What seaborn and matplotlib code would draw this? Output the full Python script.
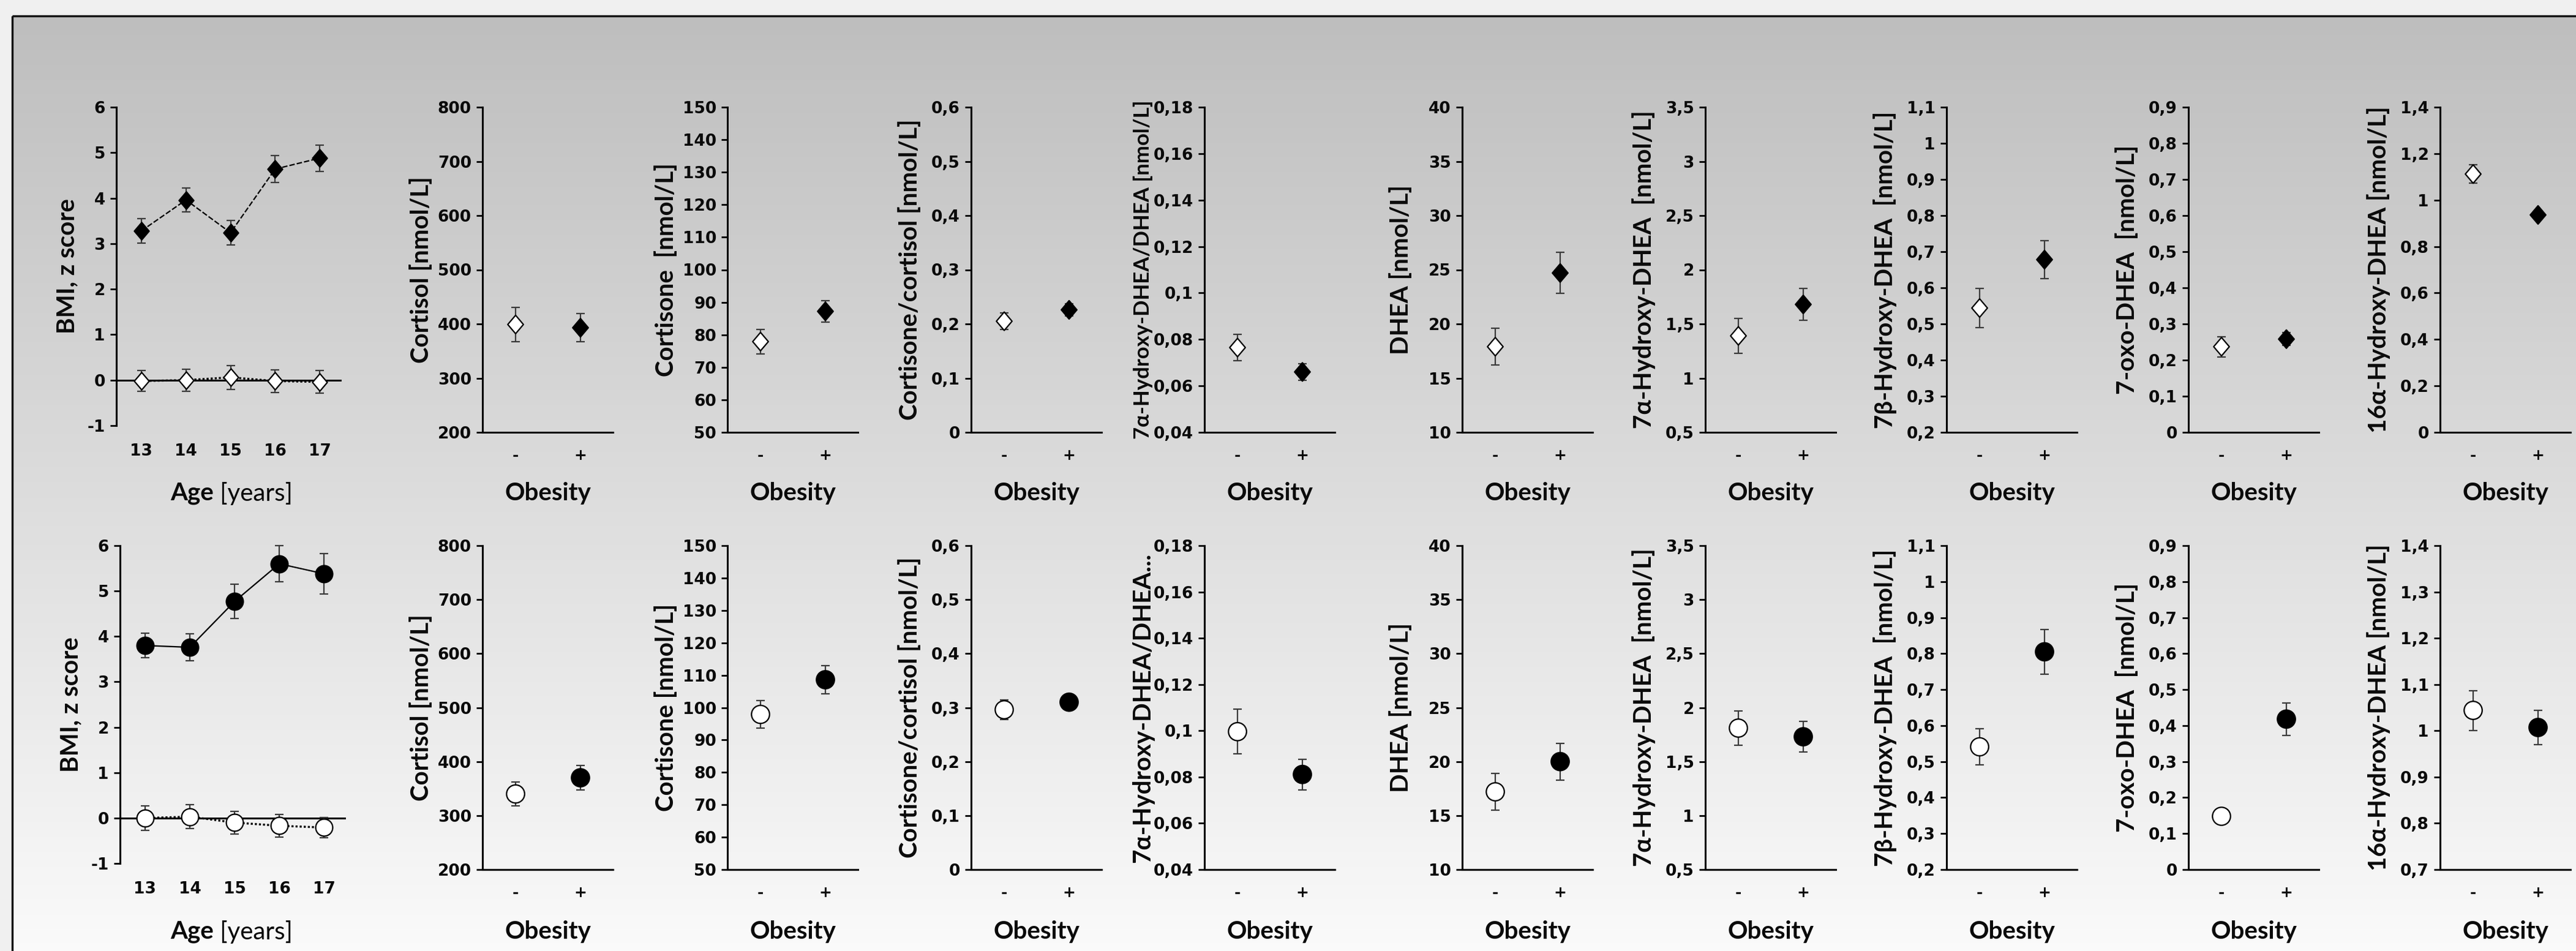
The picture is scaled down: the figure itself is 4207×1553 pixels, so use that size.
import numpy as np
import pandas as pd
import matplotlib
matplotlib.use("Agg")
import matplotlib.pyplot as plt
from matplotlib.path import Path
from matplotlib.markers import MarkerStyle
from matplotlib.patches import Rectangle
from matplotlib.ticker import FuncFormatter
from matplotlib.colors import LinearSegmentedColormap
import seaborn as sns

# ---------------- data ----------------
ages = [13, 14, 15, 16, 17]
bmi_top_obese = [3.28, 3.96, 3.24, 4.64, 4.88]
bmi_top_obese_err = [0.27, 0.26, 0.27, 0.30, 0.29]
bmi_top_lean = [-0.02, 0.0, 0.06, -0.02, -0.04]
bmi_top_lean_err = [0.23, 0.24, 0.26, 0.25, 0.25]
bmi_bot_obese = [3.80, 3.76, 4.77, 5.60, 5.38]
bmi_bot_obese_err = [0.27, 0.30, 0.38, 0.40, 0.44]
bmi_bot_lean = [0.0, 0.03, -0.10, -0.17, -0.21]
bmi_bot_lean_err = [0.27, 0.26, 0.25, 0.25, 0.22]

obesity_levels = ['-', '+']

labels_top = ['Cortisol [nmol/L]', 'Cortisone  [nmol/L]', 'Cortisone/cortisol [nmol/L]',
              '7α-Hydroxy-DHEA/DHEA [nmol/L]', 'DHEA [nmol/L]', '7α-Hydroxy-DHEA  [nmol/L]',
              '7β-Hydroxy-DHEA  [nmol/L]', '7-oxo-DHEA  [nmol/L]', '16α-Hydroxy-DHEA [nmol/L]']
labels_bot = ['Cortisol [nmol/L]', 'Cortisone [nmol/L]', 'Cortisone/cortisol [nmol/L]',
              '7α-Hydroxy-DHEA/DHEA...', 'DHEA [nmol/L]', '7α-Hydroxy-DHEA  [nmol/L]',
              '7β-Hydroxy-DHEA  [nmol/L]', '7-oxo-DHEA  [nmol/L]', '16α-Hydroxy-DHEA [nmol/L]']

top_lean = [399, 77.9, 0.205, 0.0765, 17.9, 1.39, 0.544, 0.237, 1.112]
top_lean_err = [32, 3.8, 0.015, 0.0057, 1.7, 0.16, 0.055, 0.028, 0.04]
top_obese = [393, 87.2, 0.226, 0.066, 24.7, 1.68, 0.678, 0.258, 0.936]
top_obese_err = [26, 3.3, 0.011, 0.0035, 1.9, 0.145, 0.052, 0.018, 0.015]
bot_lean = [340, 97.9, 0.296, 0.0996, 17.2, 1.81, 0.541, 0.148, 1.044]
bot_lean_err = [22, 4.2, 0.018, 0.0097, 1.7, 0.16, 0.05, 0.015, 0.043]
bot_obese = [370, 108.6, 0.31, 0.0811, 20.0, 1.73, 0.805, 0.418, 1.007]
bot_obese_err = [23, 4.3, 0.01, 0.0066, 1.7, 0.14, 0.062, 0.045, 0.037]

top_ylims = [(200, 800), (50, 150), (0, 0.6), (0.04, 0.18), (10, 40), (0.5, 3.5), (0.2, 1.1), (0, 0.9), (0, 1.4)]
top_steps = [100, 10, 0.1, 0.02, 5, 0.5, 0.1, 0.1, 0.2]
bot_ylims = [(200, 800), (50, 150), (0, 0.6), (0.04, 0.18), (10, 40), (0.5, 3.5), (0.2, 1.1), (0, 0.9), (0.7, 1.4)]
bot_steps = [100, 10, 0.1, 0.02, 5, 0.5, 0.1, 0.1, 0.1]

# ---------------- style ----------------
sns.set_theme(style="white")
TICKFONT = ['Liberation Sans Narrow', 'DejaVu Sans']
LABELFONT = ['Lato', 'DejaVu Sans']
plt.rcParams['font.family'] = TICKFONT
plt.rcParams['font.weight'] = 'bold'
plt.rcParams['axes.unicode_minus'] = False

W, H, DPI = 4207, 1553, 100
fig = plt.figure(figsize=(W / DPI, H / DPI), dpi=DPI, facecolor='#f0f0f0')

# background gradient panel with border
bg = fig.add_axes([0, 0, 1, 1], zorder=-10)
grad = np.linspace(0, 1, 512)[:, None]
cmap = LinearSegmentedColormap.from_list('bg', ['#bebebe', '#fbfbfb'])
bg.imshow(grad, cmap=cmap, extent=[20, W + 40, H + 20, 26], aspect='auto', interpolation='bilinear')
bg.add_patch(Rectangle((20, 26), W + 100, H + 100, fill=False, edgecolor='#151515', lw=2.5))
bg.set_xlim(0, W)
bg.set_ylim(H, 0)
bg.axis('off')

diamond = MarkerStyle(Path([(0, 1), (0.85, 0), (0, -1), (-0.85, 0), (0, 1)],
                           [Path.MOVETO, Path.LINETO, Path.LINETO, Path.LINETO, Path.CLOSEPOLY]))


def comma_fmt(v, pos):
    s = ('%.4f' % v).rstrip('0').rstrip('.')
    if s in ('-0', ''):
        s = '0'
    return s.replace('.', ',')


def px_axes(x0, top, w, bot):
    return fig.add_axes([x0 / W, 1 - bot / H, w / W, (bot - top) / H])


def style_axes(ax):
    ax.set_facecolor('none')
    ax.grid(False)
    for sp in ['top', 'right']:
        ax.spines[sp].set_visible(False)
    for sp in ['left', 'bottom']:
        ax.spines[sp].set_linewidth(2.2)
        ax.spines[sp].set_color('black')
    ax.tick_params(axis='y', left=True, length=7, width=2, pad=6, labelsize=19,
                   direction='out', color='black', labelcolor='#0a0a0a')
    ax.yaxis.set_major_formatter(FuncFormatter(comma_fmt))


def hormone_panel(ax, label, lean, lean_err, obese, obese_err, ylim, step, marker, s, lsize):
    style_axes(ax)
    pos = np.arange(len(obesity_levels))
    df = pd.DataFrame({'pos': pos, 'value': [lean, obese], 'err': [lean_err, obese_err],
                       'Obesity': obesity_levels})
    ax.errorbar(df['pos'], df['value'], yerr=df['err'], fmt='none', ecolor='#3a3a3a',
                elinewidth=1.6, capsize=5, capthick=1.6, zorder=2, clip_on=False)
    sns.scatterplot(data=df, x='pos', y='value', hue='Obesity',
                    palette={'-': 'white', '+': 'black'}, marker=marker, s=s,
                    edgecolor='black', linewidth=1.6, legend=False, ax=ax, zorder=3, clip_on=False)
    ax.set_xlim(-0.51, 1.5)
    ax.set_ylim(*ylim)
    ax.set_yticks(np.round(np.arange(ylim[0], ylim[1] + step / 2, step), 6))
    ax.set_xticks(pos)
    ax.set_xticklabels(obesity_levels)
    ax.tick_params(axis='x', bottom=False, length=0, pad=19, labelsize=18, labelcolor='#0a0a0a')
    ax.set_xlabel('')
    ax.set_ylabel(label, fontsize=lsize, fontweight='bold', family=LABELFONT, va='center', color='#0a0a0a')
    ax.yaxis.set_label_coords(-100 / 213, 0.5)


def bmi_panel(ax, obese, obese_err, lean, lean_err, marker, s, obese_ls):
    style_axes(ax)
    ax.spines['bottom'].set_visible(False)
    ax.axhline(0, color='black', lw=2.2, zorder=1)
    sns.lineplot(x=ages, y=lean, color='black', lw=2.4, linestyle=(0, (1, 1)), errorbar=None,
                 ax=ax, zorder=1.5)
    sns.lineplot(x=ages, y=obese, color='black', lw=1.6, linestyle=obese_ls, errorbar=None,
                 ax=ax, zorder=1.5)
    ax.errorbar(ages, lean, yerr=lean_err, fmt='none', ecolor='#3a3a3a', elinewidth=1.6,
                capsize=5, capthick=1.6, zorder=2, clip_on=False)
    ax.errorbar(ages, obese, yerr=obese_err, fmt='none', ecolor='#3a3a3a', elinewidth=1.6,
                capsize=5, capthick=1.6, zorder=2, clip_on=False)
    sns.scatterplot(x=ages, y=lean, marker=marker, s=s, color='white', edgecolor='black',
                    linewidth=1.6, ax=ax, zorder=3, clip_on=False)
    sns.scatterplot(x=ages, y=obese, marker=marker, s=s, color='black', edgecolor='black',
                    linewidth=1.6, ax=ax, zorder=3, clip_on=False)
    ax.set_xlim(12.44, 17.49)
    ax.set_ylim(-1, 6)
    ax.set_yticks(range(-1, 7))
    ax.set_xticks(ages)
    ax.set_xticklabels([str(a) for a in ages])
    ax.tick_params(axis='x', bottom=False, length=0, pad=21, labelsize=19, labelcolor='#0a0a0a')
    ax.set_xlabel('')
    ax.set_ylabel('BMI, z score', fontsize=29, fontweight='bold', family=LABELFONT, va='center',
                  color='#0a0a0a')
    ax.yaxis.set_label_coords(-80 / 368, 0.5)


hormone_x = [788, 1188, 1586, 1967, 2388, 2785, 3179, 3574, 3985]
HW = 213
rows = [
    dict(top=175, bot=706, bmi=(190, 175, 368, 695), labels=labels_top,
         lean=top_lean, lean_err=top_lean_err, obese=top_obese, obese_err=top_obese_err,
         ylims=top_ylims, steps=top_steps, marker=diamond, s=470, bmi_s=420,
         bmi_data=(bmi_top_obese, bmi_top_obese_err, bmi_top_lean, bmi_top_lean_err),
         obese_ls=(0, (4, 1.5)), xlabel_y=806, long_size=25),
    dict(top=891, bot=1420, bmi=(196, 891, 369, 1410), labels=labels_bot,
         lean=bot_lean, lean_err=bot_lean_err, obese=bot_obese, obese_err=bot_obese_err,
         ylims=bot_ylims, steps=bot_steps, marker='o', s=450, bmi_s=400,
         bmi_data=(bmi_bot_obese, bmi_bot_obese_err, bmi_bot_lean, bmi_bot_lean_err),
         obese_ls='-', xlabel_y=1522, long_size=29),
]

fig.canvas.draw()
renderer = fig.canvas.get_renderer()

for r in rows:
    bx, bt, bw, bb = r['bmi']
    axb = px_axes(bx, bt, bw, bb)
    ob, obe, le, lee = r['bmi_data']
    bmi_panel(axb, ob, obe, le, lee, r['marker'], r['bmi_s'], r['obese_ls'])
    # "Age [years]" label: bold + regular
    t1 = fig.text(0, 1 - r['xlabel_y'] / H, 'Age', fontsize=29, fontweight='bold',
                  family=LABELFONT, va='center', ha='left', color='#0a0a0a')
    t2 = fig.text(0, 1 - r['xlabel_y'] / H, ' [years]', fontsize=29, fontweight='normal',
                  family=LABELFONT, va='center', ha='left', color='#0a0a0a')
    w1 = t1.get_window_extent(renderer).width
    w2 = t2.get_window_extent(renderer).width
    cx = 378
    x0 = cx - (w1 + w2) / 2
    t1.set_x(x0 / W)
    t2.set_x((x0 + w1) / W)

    for i, x0p in enumerate(hormone_x):
        ax = px_axes(x0p, r['top'], HW, r['bot'])
        lsize = r['long_size'] if r['labels'][i].startswith('7α-Hydroxy-DHEA/') else 29
        hormone_panel(ax, r['labels'][i], r['lean'][i], r['lean_err'][i], r['obese'][i],
                      r['obese_err'][i], r['ylims'][i], r['steps'][i], r['marker'], r['s'], lsize)
        fig.text((x0p + 107) / W, 1 - r['xlabel_y'] / H, 'Obesity', fontsize=29,
                 fontweight='bold', family=LABELFONT, ha='center', va='center', color='#0a0a0a')

fig.savefig('out.png', dpi=DPI, facecolor=fig.get_facecolor())
